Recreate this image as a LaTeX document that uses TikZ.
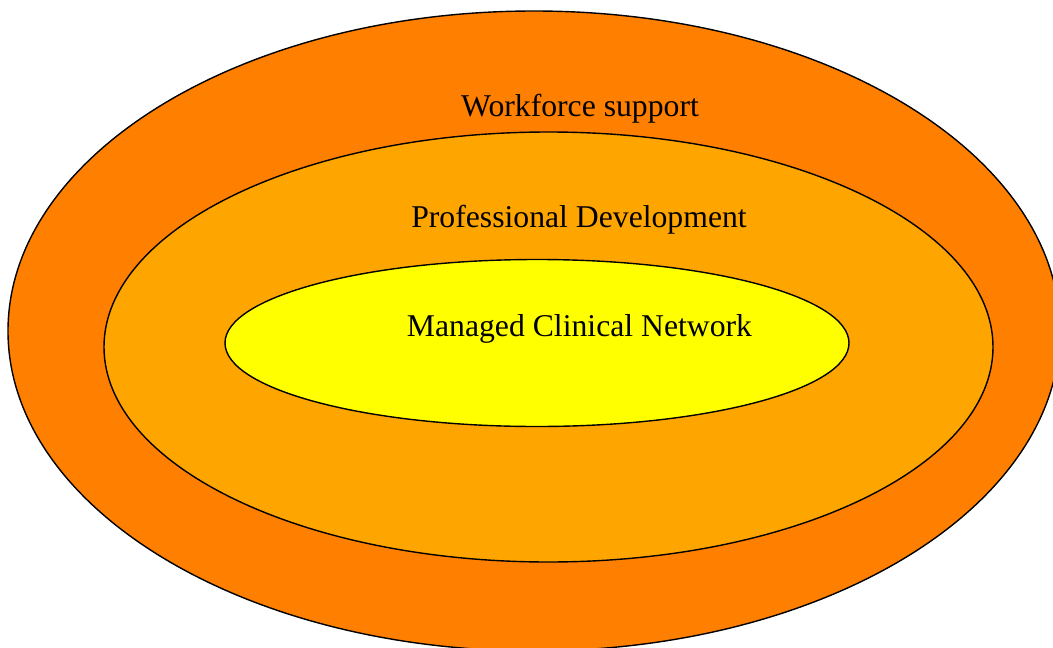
\documentclass[tikz,border=0pt]{standalone}
\usepackage{fontspec}
\setmainfont{Liberation Serif}
\usetikzlibrary{positioning}
\definecolor{workforce}{RGB}{255,127,0}
\definecolor{profdev}{RGB}{255,165,0}
\definecolor{network}{RGB}{255,255,0}
\newcommand*{\ringtext}[1]{\fontsize{31.7}{36}\selectfont #1}

\begin{document}
\begin{tikzpicture}[x=1pt,y=-1pt,line width=1.4pt]
% Fix the page to the size of the picture
\useasboundingbox (0,0) rectangle (1053,648);
% Draw the three rings from outside in
\draw[fill=workforce] (534,331) coordinate (wc) ellipse [x radius=526,y radius=320];
\draw[fill=profdev] (548.5,347) coordinate (pc) ellipse [x radius=444.5,y radius=215];
\draw[fill=network] (537,343) coordinate (nc) ellipse [x radius=312,y radius=83.5];
% Label each ring
\node[anchor=base,inner sep=0pt] (work) at (580,116) {\ringtext{Workforce support}};
\node[anchor=base,inner sep=0pt] (prof) at (579,227) {\ringtext{Professional Development}};
\node[anchor=base,inner sep=0pt] (net) at (579.5,336) {\ringtext{Managed Clinical Network}};
\end{tikzpicture}
\end{document}
